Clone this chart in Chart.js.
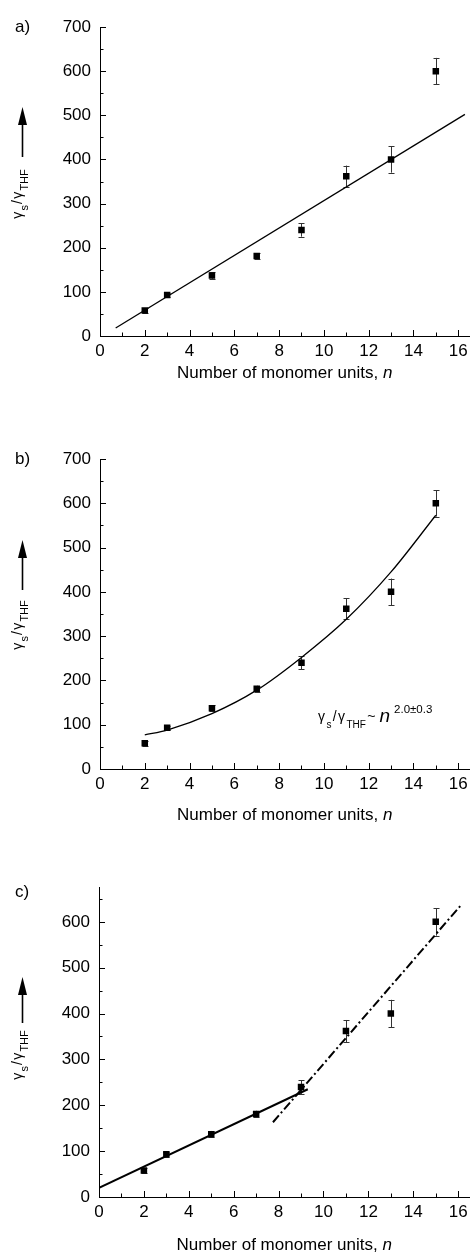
<!DOCTYPE html>
<html><head><meta charset="utf-8">
<script src="https://cdn.jsdelivr.net/npm/chart.js@4.4.1/dist/chart.umd.min.js"></script>
<style>
html,body{margin:0;padding:0;background:#fff;}
body{width:474px;height:1252px;position:relative;overflow:hidden;}
canvas{position:absolute;left:0;}
</style></head><body>
<canvas id="ca" width="474" height="420" style="top:0px;width:474px;height:420px"></canvas>
<canvas id="cb" width="474" height="430" style="top:420px;width:474px;height:430px"></canvas>
<canvas id="cc" width="474" height="402" style="top:850px;width:474px;height:402px"></canvas>
<script>
// ---- data ----
const monomerUnits = [2, 3, 5, 7, 9, 11, 13, 15];
const ratioValues  = [58, 93, 137, 181, 240, 362, 400, 600];
const ratioErrors  = [5, 5, 7, 7, 15, 24, 30, 30];

// panel a: linear fit (end points)
const fitA_n = [0.7, 16.3];
const fitA_y = [18, 502];
// panel b: power-law fit curve
const fitB_n = [2, 3, 5, 7, 9, 11, 13, 15];
const fitB_y = [77, 88, 125, 178, 252, 338, 445, 573];
// panel c: two linear regimes
const fitC1_n = [0, 9.3];
const fitC1_y = [20, 235];
const fitC2_n = [7.75, 16.1];
const fitC2_y = [163, 635];

const xTickLabels = [0, 2, 4, 6, 8, 10, 12, 14, 16];
const xMinorTicks = [1, 3, 5, 7, 9, 11, 13, 15];
const yTickLabelsAB = [0, 100, 200, 300, 400, 500, 600, 700];
const yTickLabelsC  = [0, 100, 200, 300, 400, 500, 600];
const yMinorTicks = [50, 150, 250, 350, 450, 550, 650];

const panelLabels = ['a)', 'b)', 'c)'];
const xTitleText = 'Number of monomer units, ';
const xTitleVar = 'n';
const yTitleParts = [['γ', 0], ['s', 1], ['/', 0], ['γ', 0], ['THF', 1]];
const annotParts = [['γ', 0], ['s', 1], ['/', 0], ['γ', 0], ['THF', 1], ['~', 0]];
const annotVar = 'n';
const annotExp = '2.0±0.3';

// ---- rendering ----
const FONT = "'Liberation Sans', Arial, Helvetica, sans-serif";
Chart.defaults.font.family = FONT;
Chart.defaults.font.size = 17;
Chart.defaults.color = '#000';
Chart.defaults.animation = false;

function pts(xs, ys) { return xs.map((x, i) => ({x: x, y: ys[i]})); }

function drawParts(ctx, parts, startX, baseY, mainSize, subSize, subDrop, gap) {
  let x = startX;
  parts.forEach(([t, sub], i) => {
    ctx.font = (sub ? subSize : mainSize) + 'px ' + FONT;
    ctx.fillText(t, x, baseY + (sub ? subDrop : 0));
    x += ctx.measureText(t).width + gap;
  });
  return x - gap;
}
function partsWidth(ctx, parts, mainSize, subSize, gap) {
  let w = 0;
  parts.forEach(([t, sub], i) => {
    ctx.font = (sub ? subSize : mainSize) + 'px ' + FONT;
    w += ctx.measureText(t).width + (i ? gap : 0);
  });
  return w;
}

function makePanel(id, H, area, yMax, yTicks, label, lines, yTitle, xTitleBase, annot) {
  const ctxEl = document.getElementById(id);
  const datasets = [{
    label: 'data', data: pts(monomerUnits, ratioValues),
    pointStyle: 'rect', pointRadius: 4.6, pointHoverRadius: 4.6,
    backgroundColor: '#000', borderColor: '#000', borderWidth: 0, showLine: false
  }];
  lines.forEach(l => datasets.push(Object.assign({
    data: pts(l.n, l.y), showLine: true, pointRadius: 0, fill: false,
    borderColor: '#000', backgroundColor: '#000'
  }, l.style)));

  const decor = {
    id: 'decor' + id,
    beforeDatasetsDraw(chart) {
      const c = chart.ctx, xs = chart.scales.x, ys = chart.scales.y;
      c.save();
      c.strokeStyle = '#333'; c.lineWidth = 1;
      monomerUnits.forEach((n, i) => {
        const px = Math.round(xs.getPixelForValue(n)) + 0.5;
        const y1 = ys.getPixelForValue(ratioValues[i] + ratioErrors[i]);
        const y2 = ys.getPixelForValue(ratioValues[i] - ratioErrors[i]);
        c.beginPath();
        c.moveTo(px, y1); c.lineTo(px, y2);
        c.moveTo(px - 3, Math.round(y1) + 0.5); c.lineTo(px + 3, Math.round(y1) + 0.5);
        c.moveTo(px - 3, Math.round(y2) + 0.5); c.lineTo(px + 3, Math.round(y2) + 0.5);
        c.stroke();
      });
      c.restore();
    },
    afterDraw(chart) {
      const c = chart.ctx, xs = chart.scales.x, ys = chart.scales.y, ca = chart.chartArea;
      c.save();
      c.strokeStyle = '#000'; c.lineWidth = 1;
      c.beginPath();
      xTickLabels.concat(xMinorTicks).forEach(v => {
        const px = Math.round(xs.getPixelForValue(v)) + 0.5;
        const len = xTickLabels.includes(v) ? 6 : 3.5;
        c.moveTo(px, ca.bottom); c.lineTo(px, ca.bottom - len);
      });
      yTicks.concat(yMinorTicks).forEach(v => {
        if (v > yMax) return;
        const py = Math.round(ys.getPixelForValue(v)) + 0.5;
        const len = yTicks.includes(v) ? 6 : 3.5;
        c.moveTo(ca.left, py); c.lineTo(ca.left + len, py);
      });
      c.stroke();

      c.fillStyle = '#000';
      c.textBaseline = 'alphabetic';
      c.textAlign = 'left';
      c.font = '17px ' + FONT;
      c.fillText(label.text, 15, label.y);

      c.font = '17px ' + FONT;
      const w1 = c.measureText(xTitleText).width;
      c.font = 'italic 17px ' + FONT;
      const w2 = c.measureText(xTitleVar).width;
      const cx = (xs.getPixelForValue(0) + xs.getPixelForValue(16.5)) / 2;
      let sx = cx - (w1 + w2) / 2;
      c.font = '17px ' + FONT;
      c.fillText(xTitleText, sx, xTitleBase);
      c.font = 'italic 17px ' + FONT;
      c.fillText(xTitleVar, sx + w1, xTitleBase);

      const ax = 22.5;
      c.lineWidth = 1.6;
      c.beginPath(); c.moveTo(ax, yTitle.tip + 14); c.lineTo(ax, yTitle.tail); c.stroke();
      c.beginPath(); c.moveTo(ax, yTitle.tip); c.lineTo(ax - 4.5, yTitle.tip + 18);
      c.lineTo(ax + 4.5, yTitle.tip + 18); c.closePath(); c.fill();
      c.save();
      c.translate(21.5, yTitle.cy);
      c.rotate(-Math.PI / 2);
      const tw = partsWidth(c, yTitleParts, 14, 11, 1.2);
      drawParts(c, yTitleParts, -tw / 2, 0, 14, 11, 6, 1.2);
      c.restore();

      if (annot) {
        let x = drawParts(c, annotParts, annot.x, annot.y, 14, 10, 7, 1.4);
        c.font = 'italic 19px ' + FONT;
        x += 4;
        c.fillText(annotVar, x, annot.y + 1);
        x += c.measureText(annotVar).width + 4;
        c.font = '11.5px ' + FONT;
        c.fillText(annotExp, x, annot.y - 8);
      }
      c.restore();
    }
  };

  return new Chart(ctxEl, {
    type: 'scatter',
    data: { datasets },
    options: {
      responsive: false, maintainAspectRatio: false, animation: false,
      layout: { padding: { left: 0, top: area.top, right: 474 - area.right, bottom: 0 } },
      plugins: { legend: { display: false }, tooltip: { enabled: false } },
      elements: { line: { tension: 0 } },
      scales: {
        x: {
          type: 'linear', min: 0, max: 16.5,
          afterBuildTicks: s => { s.ticks = xTickLabels.map(v => ({value: v})); },
          afterFit: s => { s.height = H - area.bottom; },
          grid: { display: false, drawTicks: false },
          border: { display: true, color: '#000', width: 1 },
          ticks: { padding: 5, maxRotation: 0, autoSkip: false, font: { size: 17 }, color: '#000' }
        },
        y: {
          type: 'linear', min: 0, max: yMax,
          afterBuildTicks: s => { s.ticks = yTicks.map(v => ({value: v})); },
          afterFit: s => { s.width = area.left; },
          grid: { display: false, drawTicks: false },
          border: { display: true, color: '#000', width: 1 },
          ticks: { padding: 9, autoSkip: false, font: { size: 17 }, color: '#000' }
        }
      }
    },
    plugins: [decor]
  });
}

makePanel('ca', 420, {left: 100, right: 471, top: 27, bottom: 336}, 700, yTickLabelsAB,
  {text: panelLabels[0], y: 32},
  [{n: fitA_n, y: fitA_y, style: {borderWidth: 1.3}}],
  {tip: 107, tail: 157, cy: 194}, 378, null);

makePanel('cb', 430, {left: 100, right: 471, top: 39, bottom: 349}, 700, yTickLabelsAB,
  {text: panelLabels[1], y: 44},
  [{n: fitB_n, y: fitB_y, style: {borderWidth: 1.3, tension: 0.4, cubicInterpolationMode: 'monotone'}}],
  {tip: 120, tail: 170, cy: 205}, 400, {x: 318, y: 301});

makePanel('cc', 402, {left: 99, right: 473, top: 37, bottom: 347}, 676, yTickLabelsC,
  {text: panelLabels[2], y: 47},
  [{n: fitC1_n, y: fitC1_y, style: {borderWidth: 2}},
   {n: fitC2_n, y: fitC2_y, style: {borderWidth: 2, borderDash: [9, 3, 2, 3]}}],
  {tip: 127, tail: 173, cy: 205}, 400, null);
</script>
</body></html>
